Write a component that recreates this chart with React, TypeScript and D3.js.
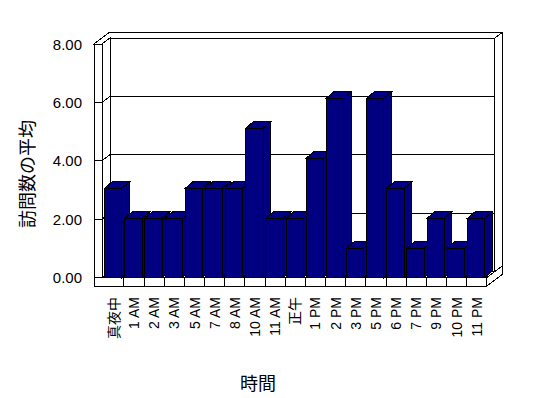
import React from 'react';
import * as d3 from 'd3';

// chart data
const categories = ['真夜中', '1 AM', '2 AM', '3 AM', '5 AM', '7 AM', '8 AM', '10 AM', '11 AM', '正午',
  '1 PM', '2 PM', '3 PM', '5 PM', '6 PM', '7 PM', '9 PM', '10 PM', '11 PM'];
const visits = [3, 2, 2, 2, 3, 3, 3, 5, 2, 2, 4, 6, 1, 6, 3, 1, 2, 1, 2];
const yTicks = [0, 2, 4, 6, 8];
const yTitle = '訪問数の平均';
const xTitle = '時間';

const W = 548;
const H = 398;
const NAVY = '#000080';
const FONT = '"Liberation Sans", Arial, "Noto Sans CJK JP", sans-serif';

// 3d box layout
const outerLeft = 94;
const innerLeft = 102;
const floorBottom = 286;
const DX = 8;   // depth offset of the inner box
const DY = -6;
const BDX = 7.5; // bar depth
const BDY = -6.5;

const x = d3.scaleBand<string>().domain(categories).range([103.8, 486.8]).paddingInner(0);
const yFront = d3.scaleLinear().domain([0, 8]).range([277.5, 44]);
const yBack = (v: number) => yFront(v) + DY;
const yBar = d3.scaleLinear().domain([0, 8]).range([278.3, 38.3]);

const pts = (p: number[][]) => p.map(d => d.join(',')).join(' ');

export default function App() {
  const xr = x.range()[1];
  const top = yFront(8);
  const floorTop = yFront(0);
  const line = { stroke: '#000', strokeWidth: 1, fill: '#fff' };
  const bw = x.bandwidth() * 0.86;

  return (
    <div style={{ position: 'absolute', left: 0, top: 0 }}>
      <svg width={W} height={H} style={{ display: 'block', background: '#fff' }} shapeRendering="crispEdges">
        {/* back wall front face */}
        <rect x={innerLeft + DX} y={yBack(8)} width={xr + DX - innerLeft - DX} height={yBack(0) - yBack(8)} {...line} />
        {/* top of left + back wall */}
        <polygon {...line} points={pts([
          [outerLeft, top], [outerLeft + 2 * DX, top + 2 * DY], [xr + 2 * DX, top + 2 * DY],
          [xr + DX, top + DY], [innerLeft + DX, top + DY], [innerLeft, top]])} />
        {/* left wall inner face */}
        <polygon {...line} points={pts([[innerLeft, top], [innerLeft + DX, top + DY], [innerLeft + DX, floorTop + DY], [innerLeft, floorTop]])} />
        {/* left wall front face */}
        <rect x={outerLeft} y={top} width={innerLeft - outerLeft} height={floorTop - top} {...line} />
        {/* back wall right side */}
        <polygon {...line} points={pts([[xr + DX, top + DY], [xr + 2 * DX, top + 2 * DY], [xr + 2 * DX, floorTop + 2 * DY], [xr + DX, floorTop + DY]])} />
        {/* gridlines */}
        {yTicks.filter(v => v > 0 && v < 8).map(v => (
          <g key={v} stroke="#000" fill="none">
            <line x1={outerLeft} x2={innerLeft} y1={yFront(v)} y2={yFront(v)} />
            <line x1={innerLeft} x2={innerLeft + DX} y1={yFront(v)} y2={yBack(v)} />
            <line x1={innerLeft + DX} x2={xr + DX} y1={yBack(v)} y2={yBack(v)} />
          </g>
        ))}
        {/* floor */}
        <polygon {...line} points={pts([[innerLeft, floorTop], [xr, floorTop], [xr + DX, floorTop + DY], [innerLeft + DX, floorTop + DY]])} />
        <rect x={outerLeft} y={floorTop} width={xr - outerLeft} height={floorBottom - floorTop} {...line} />
        <polygon {...line} points={pts([[xr, floorTop], [xr + 2 * DX, floorTop + 2 * DY], [xr + 2 * DX, floorBottom + 2 * DY], [xr, floorBottom]])} />
        {categories.slice(1).map(c => (
          <line key={c} x1={x(c)} x2={x(c)} y1={floorTop} y2={floorBottom} stroke="#000" />
        ))}
        {/* bars */}
        {categories.map((c, i) => {
          const x0 = (x(c) as number) + 0.8;
          const x1 = x0 + bw;
          const yt = yBar(visits[i]);
          return (
            <g key={c} fill={NAVY} stroke="#000" strokeWidth={1}>
              <polygon points={pts([[x0, yt], [x0 + BDX, yt + BDY], [x1 + BDX, yt + BDY], [x1, yt]])} />
              <polygon points={pts([[x1, yt], [x1 + BDX, yt + BDY], [x1 + BDX, floorTop + BDY], [x1, floorTop]])} />
              <rect x={x0} y={yt} width={bw} height={floorTop - yt} />
            </g>
          );
        })}
        {/* y axis labels */}
        {yTicks.map(v => (
          <text key={v} x={82} y={yFront(v)} textAnchor="end" dominantBaseline="central"
            fontFamily={FONT} fontSize={15} fill="#000">{v.toFixed(2)}</text>
        ))}
        {/* x axis labels */}
        {categories.map(c => {
          const cx = (x(c) as number) + x.bandwidth() / 2;
          return (
            <text key={c} transform={`translate(${cx},297) rotate(-90)`} textAnchor="end" dominantBaseline="central"
              fontFamily={FONT} fontSize={14} fill="#000">{c}</text>
          );
        })}
        <text transform="translate(28,174) rotate(-90)" textAnchor="middle" dominantBaseline="central"
          fontFamily={FONT} fontSize={18} fill="#000">{yTitle}</text>
        <text x={258} y={384} textAnchor="middle" dominantBaseline="central"
          fontFamily={FONT} fontSize={18} fill="#000">{xTitle}</text>
      </svg>
    </div>
  );
}
